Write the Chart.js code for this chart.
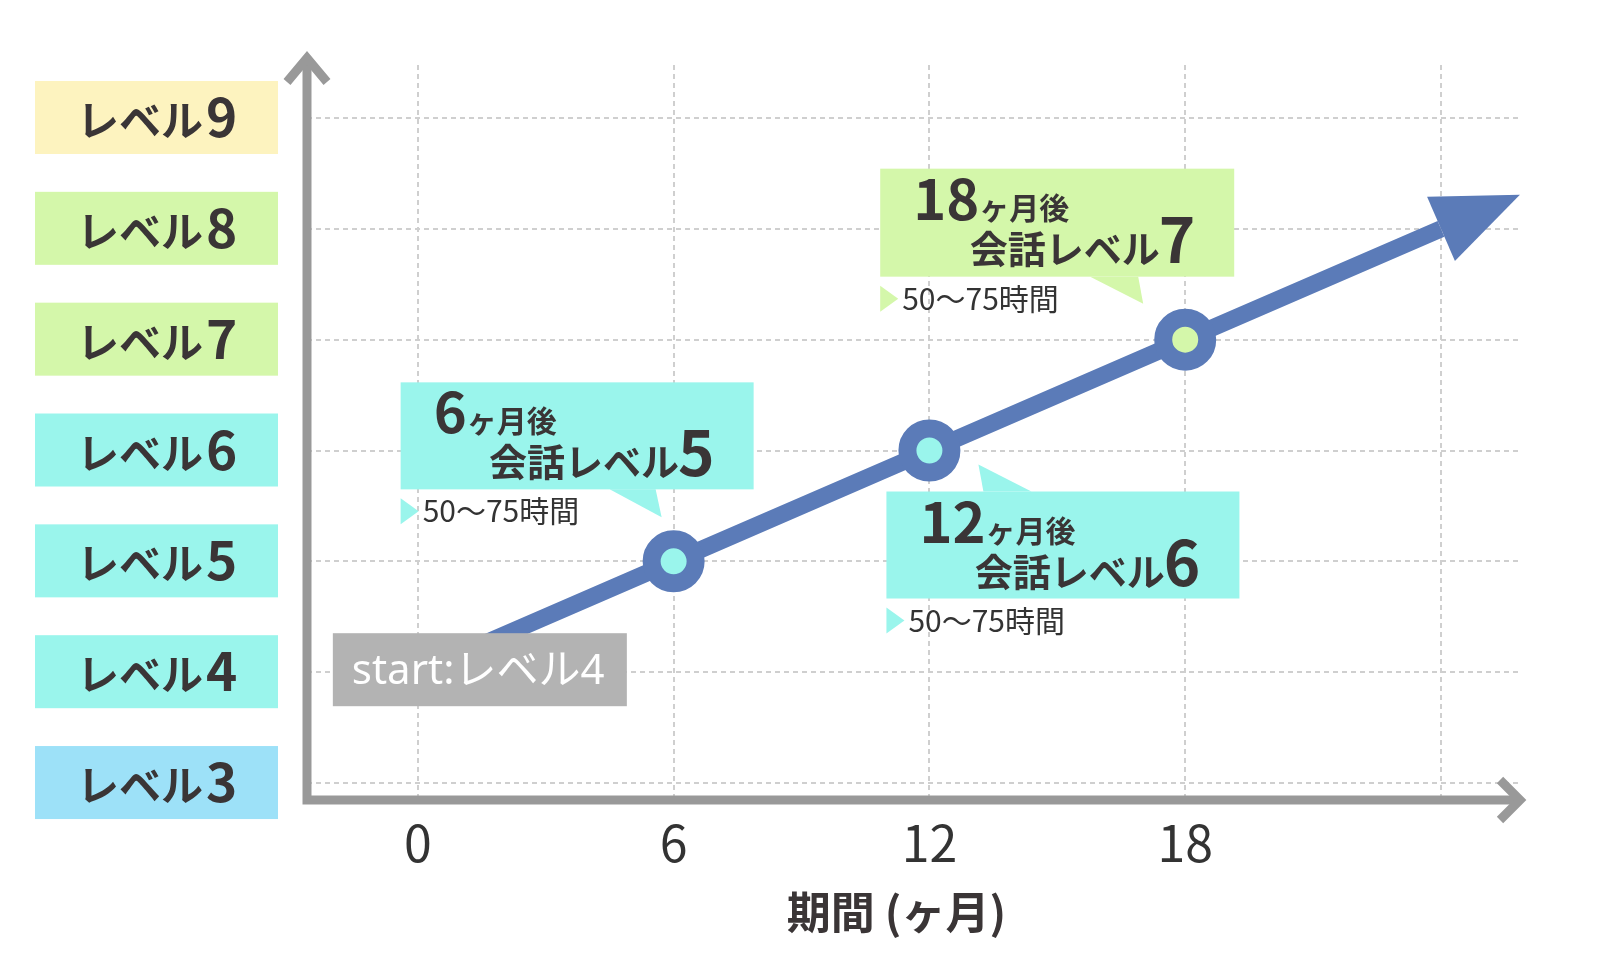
<!DOCTYPE html>
<html lang="ja">
<head>
<meta charset="utf-8">
<title>会話レベルの推移</title>
<script src="https://cdn.jsdelivr.net/npm/chart.js@4.4.1/dist/chart.umd.min.js"></script>
<style>
  html, body { margin: 0; padding: 0; background: #fff; }
  #chart { display: block; }
</style>
</head>
<body>
<canvas id="chart" width="1600" height="966"></canvas>
<script>
// ===================== データ =====================
const months = [0, 6, 12, 18, 24];   // 期間 (ヶ月)
const levels = [4, 5, 6, 7, 8];      // 会話レベル

const levelTicks = [3, 4, 5, 6, 7, 8, 9];
const levelLabels = ["3", "4", "5", "6", "7", "8", "9"];
const levelPrefix = "レベル";
const monthTicks = [0, 6, 12, 18, 24];
const monthTickLabels = ["0", "6", "12", "18", ""];
const xTitle = "期間 (ヶ月)";
const startLabel = "start:レベル4";

// 吹き出し (6 / 12 / 18ヶ月後)
const calloutIndex = [1, 2, 3];
const calloutMonthText = ["6", "12", "18"];
const calloutLevelText = ["5", "6", "7"];
const calloutHours = ["50〜75時間", "50〜75時間", "50〜75時間"];

// ===================== スタイル =====================
const FONT = '"Noto Sans CJK JP", "Noto Sans", sans-serif';
const TEXT = "#3a3536";
const BLUE = "#5b7bb8";
const AXIS_GRAY = "#999999";
const CYAN = "#9af5ec";
const GREEN = "#d4f7aa";
const levelBoxColors = { 3: "#9de1f8", 4: CYAN, 5: CYAN, 6: CYAN, 7: GREEN, 8: GREEN, 9: "#fdf3bf" };
const pointFill = ["#ffffff", CYAN, CYAN, GREEN, "#ffffff"];
const pointSize = [0, 22, 22, 22, 0];

// 吹き出しの位置は対象の点からの相対値
const calloutLayout = [
    { dx: -273, dy: -179, w: 353, h: 107, tail: [[-64, -72], [-18, -72], [-12, -44]], color: CYAN },
    { dx: -43, dy: 41, w: 353, h: 107, tail: [[54, 41], [102, 41], [49, 14]], color: CYAN },
    { dx: -305, dy: -171, w: 354, h: 108, tail: [[-95, -63], [-47, -63], [-42, -36]], color: GREEN },
];

// ===================== プラグイン =====================
const decorPlugin = {
    id: "decor",
    beforeDatasetsDraw(chart) {
        const { ctx, chartArea: a, scales: { y } } = chart;
        ctx.save();

        // 左側のレベル表示
        levelTicks.forEach((lv, i) => {
            const py = y.getPixelForValue(lv);
            ctx.fillStyle = levelBoxColors[lv];
            ctx.fillRect(35, py - 37, 243, 73);
            ctx.fillStyle = TEXT;
            ctx.textAlign = "left";
            ctx.textBaseline = "alphabetic";
            ctx.font = `bold 42px ${FONT}`;
            ctx.fillText(levelPrefix, 77, py + 18);
            const kw = ctx.measureText(levelPrefix).width;
            ctx.font = `bold 53px ${FONT}`;
            ctx.fillText(levelLabels[i], 77 + kw + 3, py + 19);
        });

        // 軸 (矢印つき)
        ctx.strokeStyle = AXIS_GRAY;
        ctx.lineWidth = 9;
        ctx.lineCap = "butt";
        ctx.lineJoin = "miter";
        ctx.beginPath();
        ctx.moveTo(a.left, a.top - 8);
        ctx.lineTo(a.left, a.bottom + 4.5);
        ctx.moveTo(a.left - 4.5, a.bottom);
        ctx.lineTo(a.right - 3, a.bottom);
        ctx.stroke();
        ctx.beginPath();
        ctx.moveTo(a.left - 20, a.top + 17);
        ctx.lineTo(a.left, a.top - 7);
        ctx.lineTo(a.left + 20, a.top + 17);
        ctx.moveTo(a.right - 22, a.bottom - 20);
        ctx.lineTo(a.right - 2, a.bottom);
        ctx.lineTo(a.right - 22, a.bottom + 20);
        ctx.stroke();

        // 軸タイトル
        ctx.fillStyle = TEXT;
        ctx.font = `bold 44px ${FONT}`;
        ctx.textAlign = "center";
        ctx.textBaseline = "middle";
        ctx.fillText(xTitle, (a.left + a.right) / 2 - 18, a.bottom + 112);
        ctx.restore();
    },
    afterDatasetsDraw(chart) {
        const { ctx } = chart;
        const pts = chart.getDatasetMeta(0).data;
        ctx.save();

        // 線の先の矢じり
        const p1 = pts[pts.length - 2], p2 = pts[pts.length - 1];
        const ang = Math.atan2(p2.y - p1.y, p2.x - p1.x);
        ctx.save();
        ctx.translate(p2.x, p2.y);
        ctx.rotate(ang);
        ctx.fillStyle = BLUE;
        ctx.beginPath();
        ctx.moveTo(86, 0);
        ctx.lineTo(0, -35);
        ctx.lineTo(0, 35);
        ctx.closePath();
        ctx.fill();
        ctx.restore();

        // start ラベル
        const p0 = pts[0];
        ctx.fillStyle = "#b3b3b3";
        ctx.fillRect(p0.x - 85, p0.y - 39, 294, 73);
        ctx.fillStyle = "#ffffff";
        ctx.font = `42px "Noto Sans", "Noto Sans CJK JP", sans-serif`;
        ctx.textAlign = "left";
        ctx.textBaseline = "alphabetic";
        ctx.fillText(startLabel, p0.x - 66, p0.y + 12);

        // 吹き出し
        calloutIndex.forEach((idx, i) => {
            const L = calloutLayout[i];
            const px = pts[idx].x, py = pts[idx].y;
            const bx = px + L.dx, by = py + L.dy;

            ctx.fillStyle = L.color;
            ctx.fillRect(bx, by, L.w, L.h);
            ctx.beginPath();
            L.tail.forEach(([tx, ty], k) => k ? ctx.lineTo(px + tx, py + ty) : ctx.moveTo(px + tx, py + ty));
            ctx.closePath();
            ctx.fill();

            ctx.fillStyle = TEXT;
            ctx.textAlign = "left";
            ctx.font = `bold 56px ${FONT}`;
            ctx.fillText(calloutMonthText[i], bx + 33, by + 51);
            const nw = ctx.measureText(calloutMonthText[i]).width;
            ctx.font = `bold 30px ${FONT}`;
            ctx.fillText("ヶ月後", bx + 33 + nw, by + 50);

            ctx.textAlign = "right";
            const rx = bx + L.w - 39;
            ctx.font = `bold 62px ${FONT}`;
            ctx.fillText(calloutLevelText[i], rx, by + 94);
            const lw = ctx.measureText(calloutLevelText[i]).width;
            ctx.font = `bold 38px ${FONT}`;
            ctx.fillText("会話レベル", rx - lw + 1, by + 94);

            // ▶ 50〜75時間
            const sy = by + L.h;
            ctx.fillStyle = L.color;
            ctx.beginPath();
            ctx.moveTo(bx, sy + 9);
            ctx.lineTo(bx + 18, sy + 22);
            ctx.lineTo(bx, sy + 35);
            ctx.closePath();
            ctx.fill();
            ctx.fillStyle = "#333333";
            ctx.textAlign = "left";
            ctx.font = `30px ${FONT}`;
            ctx.fillText(calloutHours[i], bx + 22, sy + 33);
        });
        ctx.restore();
    }
};

// ===================== グラフ =====================
const chart = new Chart(document.getElementById("chart"), {
    type: "line",
    data: {
        datasets: [{
            data: months.map((m, i) => ({ x: m, y: levels[i] })),
            borderColor: BLUE,
            borderWidth: 17,
            borderCapStyle: "butt",
            tension: 0,
            pointRadius: pointSize,
            pointHoverRadius: pointSize,
            pointBorderWidth: 18,
            pointBorderColor: BLUE,
            pointBackgroundColor: pointFill,
            clip: false
        }]
    },
    options: {
        responsive: false,
        animation: false,
        events: [],
        layout: { padding: { top: 65, right: 78, left: 0, bottom: 0 } },
        plugins: { legend: { display: false }, tooltip: { enabled: false } },
        scales: {
            x: {
                type: "linear",
                min: -2.6,
                max: 25.9,
                afterBuildTicks: (axis) => { axis.ticks = monthTicks.map(v => ({ value: v })); },
                afterFit: (axis) => { axis.height = 166; },
                ticks: {
                    autoSkip: false,
                    maxRotation: 0,
                    padding: 13,
                    color: "#333333",
                    font: { family: FONT, size: 50 },
                    callback: (value, index) => monthTickLabels[index]
                },
                grid: { color: "#cfcfcf", lineWidth: 2, drawTicks: false },
                border: { display: false, dash: [5, 4] }
            },
            y: {
                type: "linear",
                min: 2.847,
                max: 9.478,
                afterBuildTicks: (axis) => { axis.ticks = levelTicks.map(v => ({ value: v })); },
                afterFit: (axis) => { axis.width = 307; },
                ticks: { display: false },
                grid: { color: "#cfcfcf", lineWidth: 2, drawTicks: false },
                border: { display: false, dash: [5, 4] }
            }
        }
    },
    plugins: [decorPlugin]
});
</script>
</body>
</html>
